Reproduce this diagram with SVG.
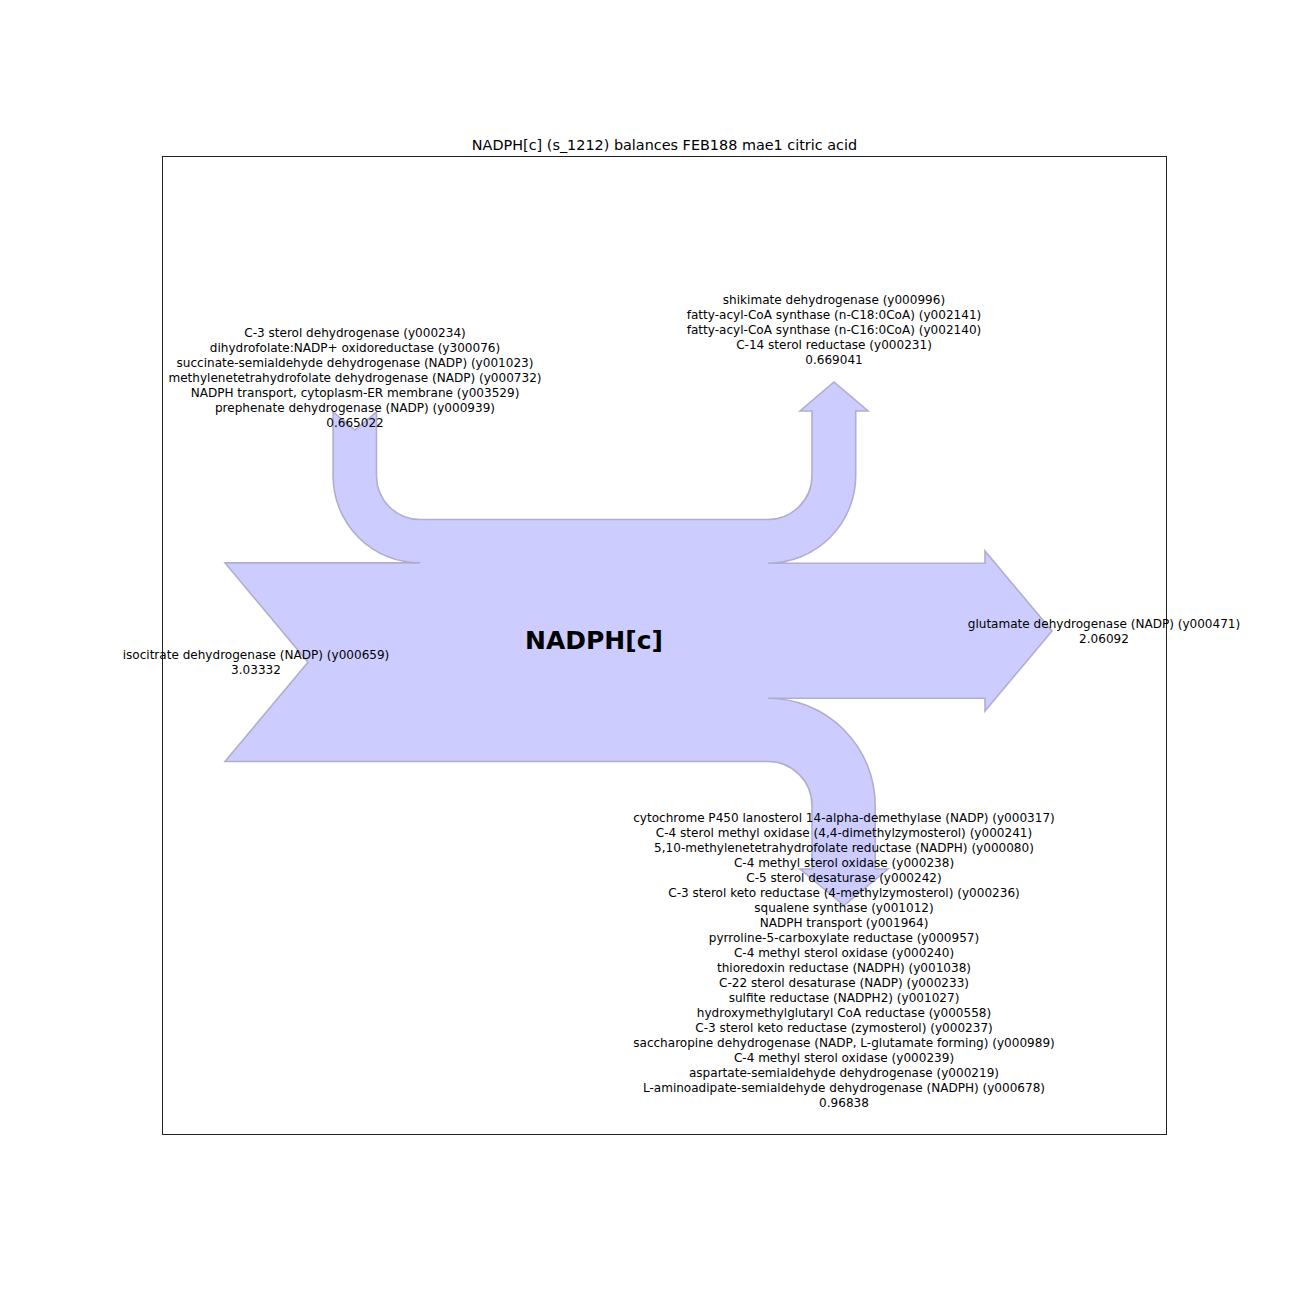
<svg xmlns="http://www.w3.org/2000/svg" width="1296" height="1296" viewBox="0 0 1296 1296">
<style>
.lbl{font-family:"DejaVu Sans","Liberation Sans",sans-serif;font-size:12.05px;fill:#000;text-anchor:middle}
.title{font-family:"DejaVu Sans","Liberation Sans",sans-serif;font-size:14.4px;fill:#000;text-anchor:middle}
.main{font-family:"DejaVu Sans","Liberation Sans",sans-serif;font-size:25px;font-weight:bold;fill:#000;text-anchor:middle}
.flow{fill:#ccccff;stroke:#b0aecc;stroke-width:1.6;stroke-linejoin:miter}
</style>
<rect x="0" y="0" width="1296" height="1296" fill="#fff"/>
<rect x="162.5" y="156.5" width="1004" height="978" fill="none" stroke="#222" stroke-width="1"/>
<text class="title" x="664.5" y="150">NADPH[c] (s_1212) balances FEB188 mae1 citric acid</text>
<g id="connectors">
<path class="flow" d="M 225 562.9 L 420 562.9 A 86.9 86.9 0 0 1 333.1 476 L 333.1 412 L 355 430 L 376.5 412 L 376.5 476 A 43.5 43.5 0 0 0 420 519.5 L 768 519.5 A 44 44 0 0 0 812 475.5 L 812 411 L 800 411 L 834 382 L 868 411 L 855.7 411 L 855.7 475.5 A 87.7 87.7 0 0 1 768 563.2 L 985 563.2 L 985 551 L 1052 631 L 985 711 L 985 698.3 L 768 698.3 A 107.2 107.2 0 0 1 875.2 805.5 L 875.2 869 L 888 869 L 844 905.5 L 800 869 L 812 869 L 812 805.5 A 44 44 0 0 0 768 761.5 L 225 761.5 L 308 662.2 Z"/>
</g>
<g id="node-NADPHc">
<text class="main" x="594" y="648.5">NADPH[c]</text>
</g>
<g id="node-input-isocitrate">
<text class="lbl" x="256" y="658.5">isocitrate dehydrogenase (NADP) (y000659)</text>
<text class="lbl" x="256" y="673.5">3.03332</text>
</g>
<g id="node-input-group">
<text class="lbl" x="355" y="336.5">C-3 sterol dehydrogenase (y000234)</text>
<text class="lbl" x="355" y="351.5">dihydrofolate:NADP+ oxidoreductase (y300076)</text>
<text class="lbl" x="355" y="366.5">succinate-semialdehyde dehydrogenase (NADP) (y001023)</text>
<text class="lbl" x="355" y="381.5">methylenetetrahydrofolate dehydrogenase (NADP) (y000732)</text>
<text class="lbl" x="355" y="396.5">NADPH transport, cytoplasm-ER membrane (y003529)</text>
<text class="lbl" x="355" y="411.5">prephenate dehydrogenase (NADP) (y000939)</text>
<text class="lbl" x="355" y="426.5">0.665022</text>
</g>
<g id="node-output-top">
<text class="lbl" x="834" y="303.5">shikimate dehydrogenase (y000996)</text>
<text class="lbl" x="834" y="318.5">fatty-acyl-CoA synthase (n-C18:0CoA) (y002141)</text>
<text class="lbl" x="834" y="333.5">fatty-acyl-CoA synthase (n-C16:0CoA) (y002140)</text>
<text class="lbl" x="834" y="348.5">C-14 sterol reductase (y000231)</text>
<text class="lbl" x="834" y="363.5">0.669041</text>
</g>
<g id="node-output-glutamate">
<text class="lbl" x="1104" y="627.5">glutamate dehydrogenase (NADP) (y000471)</text>
<text class="lbl" x="1104" y="642.5">2.06092</text>
</g>
<g id="node-output-bottom">
<text class="lbl" x="844" y="821.5">cytochrome P450 lanosterol 14-alpha-demethylase (NADP) (y000317)</text>
<text class="lbl" x="844" y="836.5">C-4 sterol methyl oxidase (4,4-dimethylzymosterol) (y000241)</text>
<text class="lbl" x="844" y="851.5">5,10-methylenetetrahydrofolate reductase (NADPH) (y000080)</text>
<text class="lbl" x="844" y="866.5">C-4 methyl sterol oxidase (y000238)</text>
<text class="lbl" x="844" y="881.5">C-5 sterol desaturase (y000242)</text>
<text class="lbl" x="844" y="896.5">C-3 sterol keto reductase (4-methylzymosterol) (y000236)</text>
<text class="lbl" x="844" y="911.5">squalene synthase (y001012)</text>
<text class="lbl" x="844" y="926.5">NADPH transport (y001964)</text>
<text class="lbl" x="844" y="941.5">pyrroline-5-carboxylate reductase (y000957)</text>
<text class="lbl" x="844" y="956.5">C-4 methyl sterol oxidase (y000240)</text>
<text class="lbl" x="844" y="971.5">thioredoxin reductase (NADPH) (y001038)</text>
<text class="lbl" x="844" y="986.5">C-22 sterol desaturase (NADP) (y000233)</text>
<text class="lbl" x="844" y="1001.5">sulfite reductase (NADPH2) (y001027)</text>
<text class="lbl" x="844" y="1016.5">hydroxymethylglutaryl CoA reductase (y000558)</text>
<text class="lbl" x="844" y="1031.5">C-3 sterol keto reductase (zymosterol) (y000237)</text>
<text class="lbl" x="844" y="1046.5">saccharopine dehydrogenase (NADP, L-glutamate forming) (y000989)</text>
<text class="lbl" x="844" y="1061.5">C-4 methyl sterol oxidase (y000239)</text>
<text class="lbl" x="844" y="1076.5">aspartate-semialdehyde dehydrogenase (y000219)</text>
<text class="lbl" x="844" y="1091.5">L-aminoadipate-semialdehyde dehydrogenase (NADPH) (y000678)</text>
<text class="lbl" x="844" y="1106.5">0.96838</text>
</g>
</svg>
